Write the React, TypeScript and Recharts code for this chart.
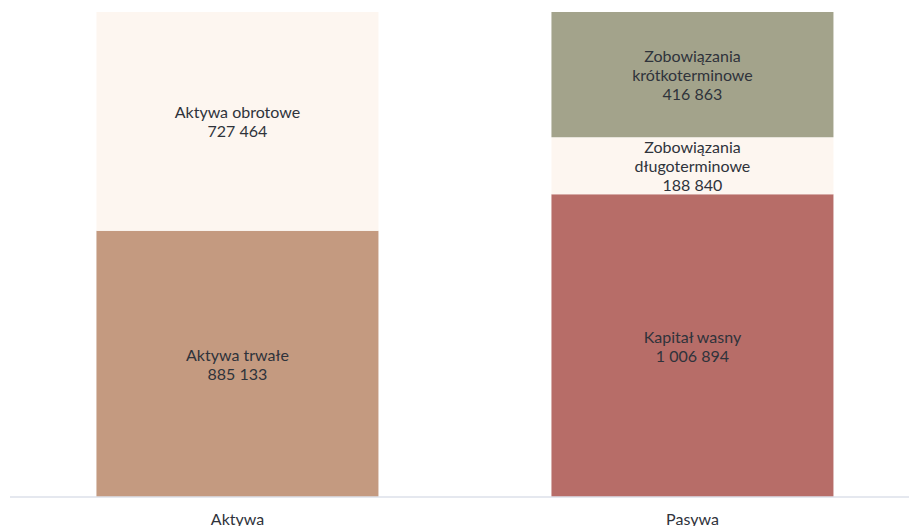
import { BarChart, Bar, XAxis, YAxis, Cell, LabelList } from 'recharts'

const categories = ['Aktywa', 'Pasywa']

// bottom -> top segments per category
const bottomNames = ['Aktywa trwałe', 'Kapitał wasny']
const bottomValues = [885133, 1006894]
const middleNames = ['Aktywa obrotowe', 'Zobowiązania długoterminowe']
const middleValues = [727464, 188840]
const topNames = ['', 'Zobowiązania krótkoterminowe']
const topValues = [0, 416863]

const bottomColors = ['#c49a80', '#b76d68']
const middleColors = ['#fdf6f0', '#fdf6f0']
const topColors = ['#a3a38b', '#a3a38b']

const data = categories.map((name, i) => ({
  name,
  bottom: bottomValues[i],
  middle: middleValues[i],
  top: topValues[i],
  bottomName: bottomNames[i],
  middleName: middleNames[i],
  topName: topNames[i],
}))

const fmt = (v: number) => String(v).replace(/\B(?=(\d{3})+(?!\d))/g, ' ')

const SegmentLabel = (props: any) => {
  const { x, y, width, height, value } = props
  if (!value) return null
  const [name, num] = String(value).split('|')
  if (!Number(num)) return null
  const words = name.length > 20 ? name.split(' ') : [name]
  const lines = [...words, fmt(Number(num))]
  const lh = 19
  const cx = Number(x) + Number(width) / 2
  const cy = Number(y) + Number(height) / 2
  const start = cy - ((lines.length - 1) * lh) / 2
  return (
    <text
      x={cx}
      y={start}
      textAnchor="middle"
      fontFamily="Lato, sans-serif"
      fontSize={16}
      fill="#2f333b"
    >
      {lines.map((l, k) => (
        <tspan key={k} x={cx} y={start + k * lh} dominantBaseline="central">
          {l}
        </tspan>
      ))}
    </text>
  )
}

export default function App() {
  return (
    <div style={{ position: 'absolute', left: 0, top: 0, width: 909, height: 526, overflow: 'hidden', background: '#fff' }}>
      <BarChart
        width={920}
        height={526}
        data={data}
        margin={{ top: 12, right: 0, left: 10, bottom: 0 }}
        barCategoryGap="19%"
      >
        <XAxis
          dataKey="name"
          axisLine={{ stroke: '#dde1ea', strokeWidth: 1.5 }}
          tickLine={false}
          height={29}
          tickMargin={11}
          tick={{ fontSize: 16, fill: '#2f333b', fontFamily: 'Lato, sans-serif' }}
        />
        <YAxis hide domain={[0, 'dataMax']} />
        <Bar dataKey="bottom" stackId="a" isAnimationActive={false}>
          {data.map((d, i) => (
            <Cell key={d.name} fill={bottomColors[i]} />
          ))}
          <LabelList dataKey={(d: any) => `${d.bottomName}|${d.bottom}`} content={SegmentLabel} />
        </Bar>
        <Bar dataKey="middle" stackId="a" isAnimationActive={false}>
          {data.map((d, i) => (
            <Cell key={d.name} fill={middleColors[i]} />
          ))}
          <LabelList dataKey={(d: any) => `${d.middleName}|${d.middle}`} content={SegmentLabel} />
        </Bar>
        <Bar dataKey="top" stackId="a" isAnimationActive={false}>
          {data.map((d, i) => (
            <Cell key={d.name} fill={topColors[i]} />
          ))}
          <LabelList dataKey={(d: any) => `${d.topName}|${d.top}`} content={SegmentLabel} />
        </Bar>
      </BarChart>
    </div>
  )
}
